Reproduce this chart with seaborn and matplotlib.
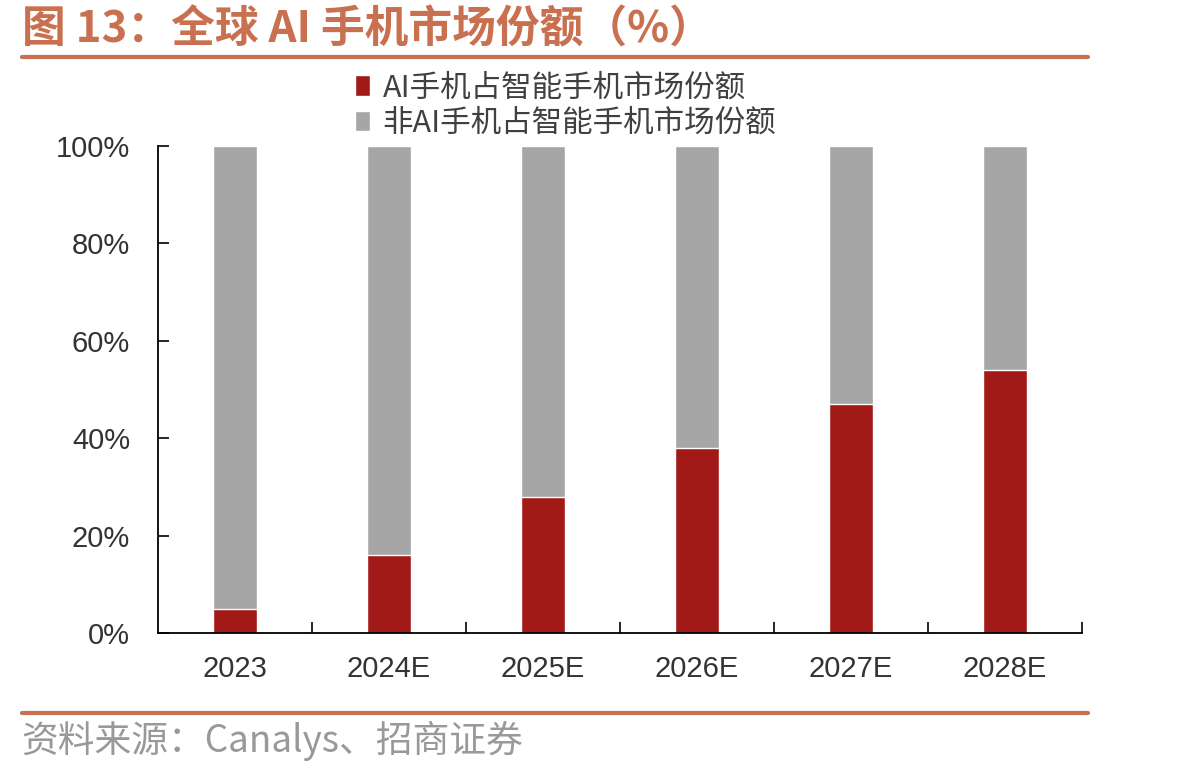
import numpy as np
import pandas as pd
import seaborn as sns
import matplotlib.pyplot as plt
from matplotlib.patches import Patch
from matplotlib.lines import Line2D
from matplotlib.ticker import PercentFormatter

# data (%)
years = ['2023', '2024E', '2025E', '2026E', '2027E', '2028E']
ai_share = [5, 16, 28, 38, 47, 54]
non_ai_share = [95, 84, 72, 62, 53, 46]

red = '#A21A18'
grey = '#A6A6A6'
accent = '#C8704F'

sns.set_style('white')
plt.rcParams['font.family'] = ['Liberation Sans', 'Noto Sans CJK SC', 'DejaVu Sans']

df = pd.DataFrame({'year': years, 'ai': ai_share, 'non_ai': non_ai_share})
df['total'] = df['ai'] + df['non_ai']

fig = plt.figure(figsize=(11.96, 7.73), dpi=100)
ax = fig.add_axes([0.1321, 0.1811, 0.7726, 0.6300])

# stacked look: full bar in grey, AI part in red on top of it
sns.barplot(data=df, x='year', y='total', color=grey, width=0.286,
            saturation=1, ax=ax)
sns.barplot(data=df, x='year', y='ai', color=red, width=0.286,
            saturation=1, ax=ax)

ax.set_ylim(0, 100)
ax.set_xlim(-0.5, len(years) - 0.5)
ax.set_yticks(np.arange(0, 101, 20))
ax.yaxis.set_major_formatter(PercentFormatter(decimals=0))
ax.set_xlabel('')
ax.set_ylabel('')

for s in ['top', 'right']:
    ax.spines[s].set_visible(False)
for s in ['left', 'bottom']:
    ax.spines[s].set_color('black')
    ax.spines[s].set_linewidth(1.3)

ax.tick_params(axis='y', direction='in', length=8, width=1.2, color='black',
               labelsize=21, labelcolor='#333333', pad=20, left=True)
ax.tick_params(axis='x', which='major', length=0, labelsize=21,
               labelcolor='#333333', pad=16)
ax.set_xticks(np.arange(0.5, len(years)), minor=True)
ax.tick_params(axis='x', which='minor', direction='in', length=8, width=1.2,
               color='black', bottom=True)

handles = [Patch(facecolor=red, label='AI手机占智能手机市场份额'),
           Patch(facecolor=grey, label='非AI手机占智能手机市场份额')]
fig.legend(handles=handles, loc='upper left', bbox_to_anchor=(0.274, 0.942),
           frameon=False, handlelength=0.5, handleheight=0.65,
           handletextpad=0.4, labelspacing=0.15,
           prop={'family': ['Noto Sans CJK SC'], 'size': 22},
           labelcolor='#404040')

fig.text(0.018, 0.962, '图 13：全球 AI 手机市场份额（%）', color=accent,
         fontsize=31.5, fontweight='bold', va='center', ha='left',
         family=['Noto Sans CJK SC', 'DejaVu Sans'])
fig.add_artist(Line2D([0.018, 0.91], [0.926, 0.926], color=accent, lw=3))
fig.add_artist(Line2D([0.018, 0.91], [0.077, 0.077], color=accent, lw=3))
fig.text(0.018, 0.042, '资料来源：Canalys、招商证券', color='#999999',
         fontsize=26.5, va='center', ha='left',
         family=['Noto Sans CJK SC', 'DejaVu Sans'])

fig.savefig('out.png', dpi=100)
